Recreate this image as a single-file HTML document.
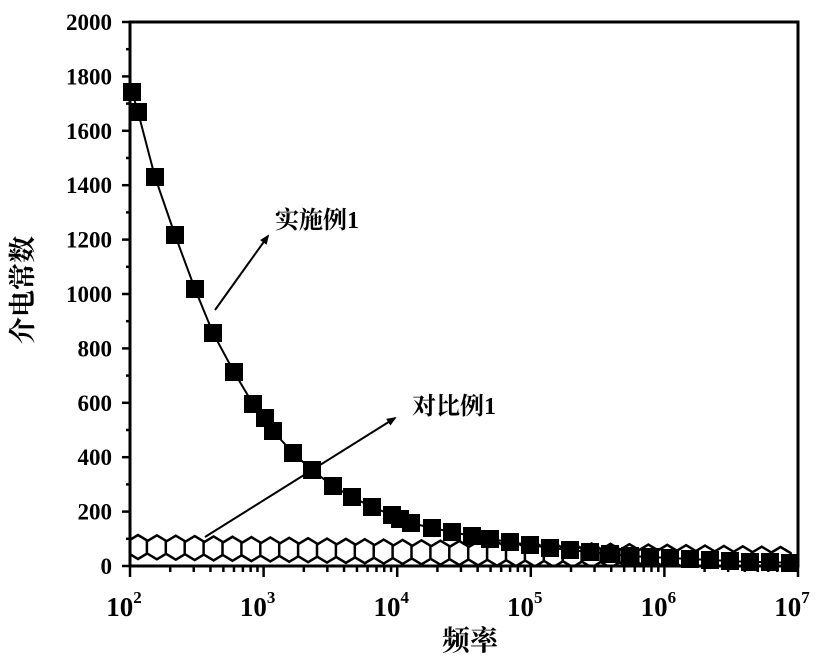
<!DOCTYPE html><html><head><meta charset="utf-8"><style>body{margin:0;background:#fff}svg{display:block}text{font-family:"Liberation Serif","Noto Serif CJK SC",serif;font-weight:bold;fill:#000}</style></head><body>
<svg width="828" height="660" viewBox="0 0 828 660" xmlns="http://www.w3.org/2000/svg">
<defs><marker id="ar" markerWidth="10" markerHeight="10" refX="8" refY="5" orient="auto" markerUnits="userSpaceOnUse"><path d="M0,1 L10,5 L0,9 z" fill="#000"/></marker>
<clipPath id="cp"><rect x="130" y="22" width="668" height="544"/></clipPath></defs>
<g id="hex" fill="#fff" stroke="#000" stroke-width="2.5" clip-path="url(#cp)"></g>
<rect x="130" y="22" width="668" height="544" fill="none" stroke="#000" stroke-width="3"/>
<g stroke="#000" stroke-width="2.5" id="ticks"></g>
<g font-size="23" text-anchor="end" id="yl"></g>
<g font-size="27" text-anchor="middle" id="xl"></g>
<polyline id="curve" fill="none" stroke="#000" stroke-width="2"/>
<g id="sq" fill="#000"></g>
<line x1="215" y1="310" x2="268" y2="236" stroke="#000" stroke-width="2" marker-end="url(#ar)"/>
<line x1="205" y1="537" x2="395" y2="418" stroke="#000" stroke-width="2" marker-end="url(#ar)"/>
<text x="275" y="228" font-size="24">实施例1</text>
<text x="412" y="414" font-size="24">对比例1</text>
<text x="470" y="650" font-size="28" text-anchor="middle">频率</text>
<text transform="translate(32,290) rotate(-90)" font-size="27" text-anchor="middle">介电常数</text>
</svg>
<script>
const ns="http://www.w3.org/2000/svg";function el(p,t,a){const e=document.createElementNS(ns,t);for(const k in a)e.setAttribute(k,a[k]);document.getElementById(p).appendChild(e);return e;}
for(let v=0;v<=2000;v+=200){const y=566-v*0.272;el('ticks','line',{x1:122,y1:y,x2:130,y2:y});if(v<2000)el('ticks','line',{x1:126,y1:y-27.2,x2:130,y2:y-27.2});const t=el('yl','text',{x:112,y:y+8});t.textContent=v;}
for(let d=0;d<=5;d++){const x=130+d*133.6;el('ticks','line',{x1:x,y1:566,x2:x,y2:577});if(d<5)for(let m=2;m<10;m++){const xx=x+Math.log10(m)*133.6;el('ticks','line',{x1:xx,y1:566,x2:xx,y2:572});}const t=el('xl','text',{x:x-6,y:616});t.innerHTML='10<tspan font-size="17" dy="-13">'+(d+2)+'</tspan>';}
for(let i=0;i<35;i++){const cx=138+i*18.9;const cy=547+Math.min(1,i/34)*12;el('hex','polygon',{points:[[cx,cy-12],[cx+10,cy-6],[cx+10,cy+6],[cx,cy+12],[cx-10,cy+6],[cx-10,cy-6]].map(p=>p.join(',')).join(' ')});}
const pts=[[132,92],[138,112],[155,177],[175,235],[195,289],[213,333],[234,372],[253,404],[265,418],[273,431],[293,453],[312,470],[333,486],[352,497],[372,507],[392,515],[400,519],[411,523],[432,528],[452,532],[472,536],[490,539],[510,542],[530,545],[550,548],[570,550],[590,552],[610,554],[630,556],[650,557],[670,558],[690,559],[710,560],[730,561],[750,562],[770,562],[790,563]];
document.getElementById('curve').setAttribute('points',pts.map(p=>p.join(',')).join(' '));
pts.forEach(p=>el('sq','rect',{x:p[0]-9,y:p[1]-9,width:18,height:18}));
</script></body></html>
